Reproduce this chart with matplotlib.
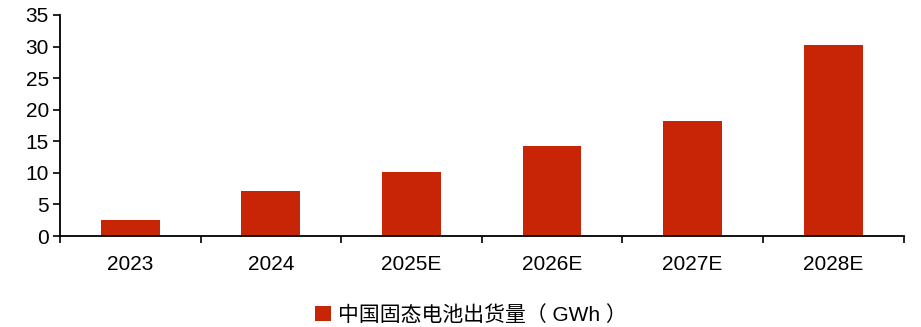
import matplotlib
matplotlib.use("Agg")
import matplotlib.pyplot as plt
from matplotlib.patches import Patch

plt.rcParams['font.family'] = ['Liberation Sans', 'Noto Sans CJK SC', 'DejaVu Sans']

categories = ["2023", "2024", "2025E", "2026E", "2027E", "2028E"]
values = [2.6, 7.2, 10.2, 14.2, 18.2, 30.2]
series_name = "中国固态电池出货量（ GWh ）"
yticks = [0, 5, 10, 15, 20, 25, 30, 35]

W, H = 921, 327
fig = plt.figure(figsize=(W / 100, H / 100), dpi=100)
ax = fig.add_axes([60 / W, 1 - 236 / H, (903.5 - 60) / W, (236 - 15) / H])

color = "#C82506"
x = list(range(len(categories)))
ax.bar(x, values, width=0.418, color=color, zorder=2)

ax.set_xlim(-0.5, len(categories) - 0.5)
ax.set_ylim(0, 35)
ax.set_yticks(yticks)
ax.set_yticklabels([str(t) for t in yticks], fontsize=15)

ax.set_xticks([i - 0.5 for i in range(len(categories) + 1)])
ax.set_xticklabels([])
ax.set_xticks(x, minor=True)
ax.set_xticklabels(categories, minor=True, fontsize=15)
ax.tick_params(axis='x', which='major', direction='out', length=5, width=1.2, color='black')
ax.tick_params(axis='x', which='minor', length=0, pad=14)
ax.tick_params(axis='y', direction='out', length=5, width=1.2, pad=3)

for s in ['top', 'right']:
    ax.spines[s].set_visible(False)
for s in ['left', 'bottom']:
    ax.spines[s].set_linewidth(1.3)
    ax.spines[s].set_color('black')

handle = Patch(facecolor=color, edgecolor='none')
fig.legend([handle], [series_name], loc='center left', bbox_to_anchor=(315 / W, 1 - 315 / H),
           frameon=False, fontsize=15, handlelength=0.75, handleheight=0.75,
           handletextpad=0.35, borderpad=0, borderaxespad=0)

fig.savefig("out.png", dpi=100)
